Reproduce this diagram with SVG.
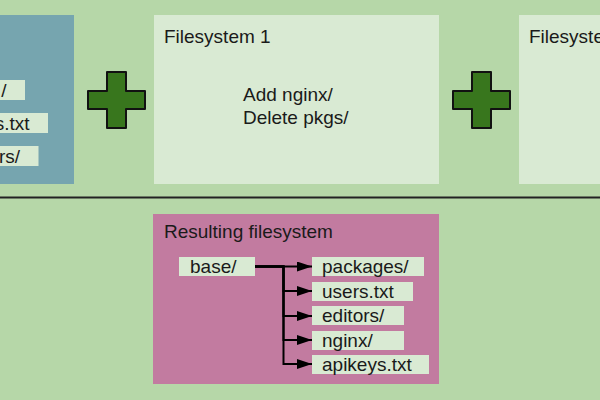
<svg xmlns="http://www.w3.org/2000/svg" width="600" height="400" viewBox="0 0 600 400">
<style>
text{font-family:"Liberation Sans",Arial,sans-serif;font-size:19px;fill:#1a1a1a}
.lbl{fill:#d9ead3}
.plus{fill:#38761d;stroke:#111;stroke-width:2;stroke-linejoin:round}
.conn{fill:none;stroke:#000;stroke-width:2}
</style>
<defs>
<marker id="arr" markerUnits="userSpaceOnUse" markerWidth="15" markerHeight="10" refX="15" refY="5" orient="auto"><path d="M0,0 L15,5 L0,10 z" fill="#000"/></marker>
<path id="plusShape" d="M-9.5,-28 H9.5 V-9 H28.5 V9 H9.5 V28 H-9.5 V9 H-28.5 V-9 H-9.5 Z"/>
</defs>
<rect width="600" height="400" fill="#b6d7a8"/>
<g id="base-fs">
<rect x="-10" y="15" width="84" height="169" fill="#76a5af"/>
<rect class="lbl" x="-10" y="80" width="35" height="20"/>
<text x="6.5" y="96.5" text-anchor="end">/</text>
<rect class="lbl" x="-10" y="113" width="58" height="20"/>
<text x="29.5" y="129.5" text-anchor="end">s.txt</text>
<rect class="lbl" x="-10" y="146" width="48.5" height="20"/>
<text x="20" y="162.5" text-anchor="end">rs/</text>
</g>
<g id="plus1"><use href="#plusShape" class="plus" transform="translate(116.5,100)"/></g>
<g id="fs1">
<rect x="154" y="15" width="285" height="169" fill="#d9ead3"/>
<text x="164" y="43">Filesystem 1</text>
<text x="243" y="101">Add nginx/</text>
<text x="243" y="124">Delete pkgs/</text>
</g>
<g id="plus2"><use href="#plusShape" class="plus" transform="translate(481.5,100)"/></g>
<g id="fs2">
<rect x="519" y="15" width="100" height="169" fill="#d9ead3"/>
<text x="529" y="43">Filesyste</text>
</g>
<line x1="0" y1="197.5" x2="600" y2="197.5" stroke="#222" stroke-width="2"/>
<g id="result">
<rect x="153" y="214" width="286" height="170" fill="#c27ba0"/>
<text x="164" y="238">Resulting filesystem</text>
</g>
<g id="n-base"><rect class="lbl" x="179" y="257" width="76" height="19"/><text x="190" y="273">base/</text></g>
<g id="n-packages"><rect class="lbl" x="312" y="257" width="112" height="19"/><text x="322" y="273">packages/</text></g>
<g id="n-users"><rect class="lbl" x="312" y="282" width="101" height="19"/><text x="322" y="298">users.txt</text></g>
<g id="n-editors"><rect class="lbl" x="312" y="306" width="92" height="19"/><text x="322" y="322">editors/</text></g>
<g id="n-nginx"><rect class="lbl" x="312" y="331" width="92" height="19"/><text x="322" y="347">nginx/</text></g>
<g id="n-apikeys"><rect class="lbl" x="312" y="355" width="117" height="19"/><text x="322" y="371">apikeys.txt</text></g>
<g id="connectors">
<path class="conn" d="M255,266.5 H283.5 H312" marker-end="url(#arr)"/>
<path class="conn" d="M255,266.5 H283.5 V291 H312" marker-end="url(#arr)"/>
<path class="conn" d="M255,266.5 H283.5 V316 H312" marker-end="url(#arr)"/>
<path class="conn" d="M255,266.5 H283.5 V340 H312" marker-end="url(#arr)"/>
<path class="conn" d="M255,266.5 H283.5 V364 H312" marker-end="url(#arr)"/>
</g>
</svg>
